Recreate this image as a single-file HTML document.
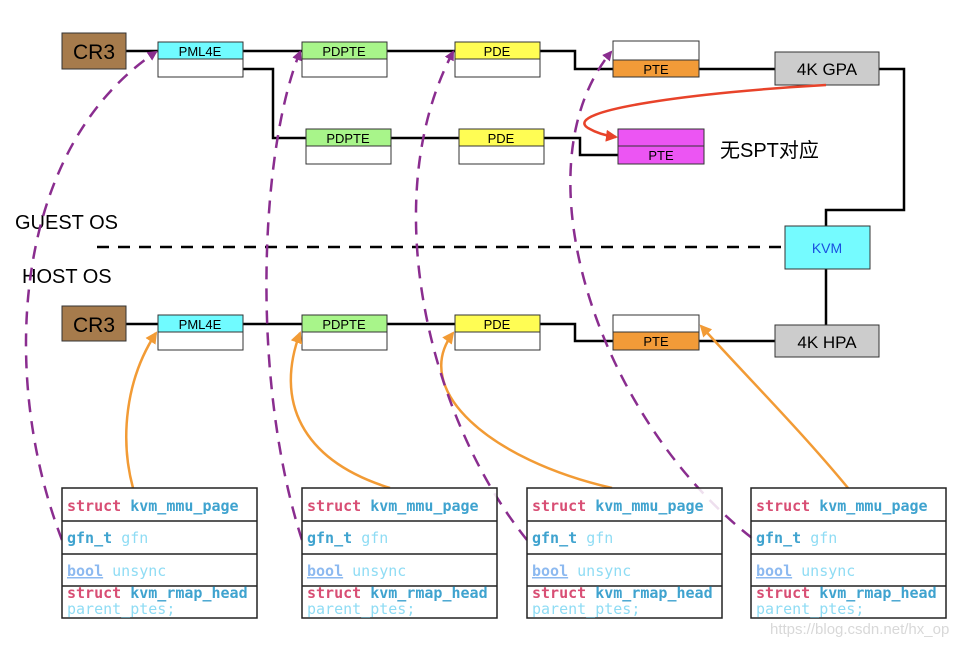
<!DOCTYPE html>
<html><head><meta charset="utf-8"><style>
body{margin:0;background:#fff;}
svg{display:block;}
.m{font-family:"DejaVu Sans Mono",monospace;font-size:15px;font-weight:bold;}
.s{font-family:"Liberation Sans","Noto Sans CJK SC",sans-serif;}
</style></head><body>
<svg width="970" height="646" viewBox="0 0 970 646" xmlns="http://www.w3.org/2000/svg">
<defs>
<marker id="ap" markerWidth="10" markerHeight="10" refX="8" refY="5" orient="auto" markerUnits="userSpaceOnUse"><path d="M0,0 L10,5 L0,10 z" fill="#8a2d8f"/></marker>
<marker id="ao" markerWidth="12" markerHeight="12" refX="10" refY="6" orient="auto" markerUnits="userSpaceOnUse"><path d="M0,0 L12,6 L0,12 z" fill="#f29b35"/></marker>
<marker id="ar" markerWidth="12" markerHeight="12" refX="10" refY="6" orient="auto" markerUnits="userSpaceOnUse"><path d="M0,0 L12,6 L0,12 z" fill="#e8432a"/></marker>
</defs>
<g stroke="#000" stroke-width="2.5" fill="none">
<path d="M126,51 H158 M243,51 H302 M387,51 H455 M540,51 H575 V69 H613 M699,69 H775 M879,69 H904 V210 H826 V226"/>
<path d="M243,69 H273 V138 H306 M391,138 H459 M544,138 H580 V155 H618"/>
<path d="M126,324 H158 M243,324 H302 M387,324 H455 M540,324 H575 V341 H613 M699,341 H775 M826,269 V325"/>
<path d="M97,247 H785" stroke-dasharray="12,9"/>
</g>
<g class="s" text-anchor="middle">
<rect x="62" y="33" width="64" height="36" fill="#a67b4c" stroke="#333"/><text x="94" y="59" font-size="21">CR3</text>
<rect x="62" y="306" width="64" height="35" fill="#a67b4c" stroke="#333"/><text x="94" y="332" font-size="21">CR3</text>
<g stroke="#333" stroke-width="1">
<rect x="158" y="42" width="85" height="17" fill="#70fbff"/><rect x="158" y="59" width="85" height="18" fill="#fff"/>
<rect x="302" y="42" width="85" height="17" fill="#a8f58a"/><rect x="302" y="59" width="85" height="18" fill="#fff"/>
<rect x="455" y="42" width="85" height="17" fill="#fffd54"/><rect x="455" y="59" width="85" height="18" fill="#fff"/>
<rect x="613" y="41" width="86" height="19" fill="#fff"/><rect x="613" y="60" width="86" height="17" fill="#f29b38"/>
<rect x="306" y="129" width="85" height="17" fill="#a8f58a"/><rect x="306" y="146" width="85" height="18" fill="#fff"/>
<rect x="459" y="129" width="85" height="17" fill="#fffd54"/><rect x="459" y="146" width="85" height="18" fill="#fff"/>
<rect x="618" y="129" width="86" height="17" fill="#ec55f3"/><rect x="618" y="146" width="86" height="18" fill="#ec55f3"/>
<rect x="158" y="315" width="85" height="17" fill="#70fbff"/><rect x="158" y="332" width="85" height="18" fill="#fff"/>
<rect x="302" y="315" width="85" height="17" fill="#a8f58a"/><rect x="302" y="332" width="85" height="18" fill="#fff"/>
<rect x="455" y="315" width="85" height="17" fill="#fffd54"/><rect x="455" y="332" width="85" height="18" fill="#fff"/>
<rect x="613" y="315" width="86" height="17" fill="#fff"/><rect x="613" y="332" width="86" height="18" fill="#f29b38"/>
<rect x="775" y="52" width="104" height="33" fill="#cccccc"/>
<rect x="785" y="226" width="85" height="43" fill="#75fbff"/>
<rect x="775" y="325" width="104" height="32" fill="#cccccc"/>
</g>
<g font-size="13">
<text x="200" y="56">PML4E</text><text x="344" y="56">PDPTE</text><text x="497" y="56">PDE</text><text x="656" y="74">PTE</text>
<text x="348" y="143">PDPTE</text><text x="501" y="143">PDE</text><text x="661" y="160">PTE</text>
<text x="200" y="329">PML4E</text><text x="344" y="329">PDPTE</text><text x="497" y="329">PDE</text><text x="656" y="346">PTE</text>
</g>
<text x="827" y="75" font-size="17">4K GPA</text>
<text x="827" y="253" font-size="14" fill="#1a4fe0">KVM</text>
<text x="827" y="348" font-size="17">4K HPA</text>
</g>
<g class="s" font-size="20">
<text x="720" y="157">无SPT对应</text>
<text x="15" y="229">GUEST OS</text>
<text x="22" y="283">HOST OS</text>
</g>
<text x="770" y="634" class="s" font-size="15" fill="#d8d8d8">https://blog.csdn.net/hx_op</text>

<g fill="none" stroke-width="2.5">
<path d="M826,85 C700,92 560,110 588,128 Q600,135 616,137" stroke="#e8432a" marker-end="url(#ar)"/>
<g stroke="#f29b35">
<path d="M133,488 C120,440 125,380 156,333" marker-end="url(#ao)"/>
<path d="M390,488 C300,460 275,400 300,333" marker-end="url(#ao)"/>
<path d="M612,488 C490,460 410,390 453,333" marker-end="url(#ao)"/>
<path d="M848,488 C800,430 750,380 701,326" marker-end="url(#ao)"/>
</g>
<g stroke="#8a2d8f" stroke-dasharray="13,9">
<path d="M62,540 C0,380 10,150 156,52" marker-end="url(#ap)"/>
<path d="M302,540 C250,380 260,150 300,52" marker-end="url(#ap)"/>
<path d="M527,540 C430,420 375,200 453,52" marker-end="url(#ap)"/>
<path d="M752,538 C600,420 515,170 611,52" marker-end="url(#ap)"/>
</g>
</g>

<g class="m">
<g transform="translate(62,488)">
<rect x="0" y="0" width="195" height="130" fill="#fff" fill-opacity="0.85" stroke="#222" stroke-width="1.5"/>
<path d="M0,33 H195 M0,66 H195 M0,98 H195" stroke="#222" stroke-width="1.5"/>
<text x="5" y="23"><tspan fill="#d84e74">struct</tspan> <tspan fill="#3fa3cf">kvm_mmu_page</tspan></text>
<text x="5" y="55"><tspan fill="#3fa3cf">gfn_t</tspan> <tspan fill="#8fdcf4" font-weight="normal">gfn</tspan></text>
<text x="5" y="88"><tspan fill="#8cb9f0" text-decoration="underline">bool</tspan> <tspan fill="#8fdcf4" font-weight="normal">unsync</tspan></text>
<text x="5" y="110"><tspan fill="#d84e74">struct</tspan> <tspan fill="#3fa3cf">kvm_rmap_head</tspan></text>
<text x="5" y="126" fill="#8fdcf4" font-weight="normal">parent_ptes;</text>
</g>
<g transform="translate(302,488)">
<rect x="0" y="0" width="195" height="130" fill="#fff" fill-opacity="0.85" stroke="#222" stroke-width="1.5"/>
<path d="M0,33 H195 M0,66 H195 M0,98 H195" stroke="#222" stroke-width="1.5"/>
<text x="5" y="23"><tspan fill="#d84e74">struct</tspan> <tspan fill="#3fa3cf">kvm_mmu_page</tspan></text>
<text x="5" y="55"><tspan fill="#3fa3cf">gfn_t</tspan> <tspan fill="#8fdcf4" font-weight="normal">gfn</tspan></text>
<text x="5" y="88"><tspan fill="#8cb9f0" text-decoration="underline">bool</tspan> <tspan fill="#8fdcf4" font-weight="normal">unsync</tspan></text>
<text x="5" y="110"><tspan fill="#d84e74">struct</tspan> <tspan fill="#3fa3cf">kvm_rmap_head</tspan></text>
<text x="5" y="126" fill="#8fdcf4" font-weight="normal">parent_ptes;</text>
</g>
<g transform="translate(527,488)">
<rect x="0" y="0" width="195" height="130" fill="#fff" fill-opacity="0.85" stroke="#222" stroke-width="1.5"/>
<path d="M0,33 H195 M0,66 H195 M0,98 H195" stroke="#222" stroke-width="1.5"/>
<text x="5" y="23"><tspan fill="#d84e74">struct</tspan> <tspan fill="#3fa3cf">kvm_mmu_page</tspan></text>
<text x="5" y="55"><tspan fill="#3fa3cf">gfn_t</tspan> <tspan fill="#8fdcf4" font-weight="normal">gfn</tspan></text>
<text x="5" y="88"><tspan fill="#8cb9f0" text-decoration="underline">bool</tspan> <tspan fill="#8fdcf4" font-weight="normal">unsync</tspan></text>
<text x="5" y="110"><tspan fill="#d84e74">struct</tspan> <tspan fill="#3fa3cf">kvm_rmap_head</tspan></text>
<text x="5" y="126" fill="#8fdcf4" font-weight="normal">parent_ptes;</text>
</g>
<g transform="translate(751,488)">
<rect x="0" y="0" width="195" height="130" fill="#fff" fill-opacity="0.85" stroke="#222" stroke-width="1.5"/>
<path d="M0,33 H195 M0,66 H195 M0,98 H195" stroke="#222" stroke-width="1.5"/>
<text x="5" y="23"><tspan fill="#d84e74">struct</tspan> <tspan fill="#3fa3cf">kvm_mmu_page</tspan></text>
<text x="5" y="55"><tspan fill="#3fa3cf">gfn_t</tspan> <tspan fill="#8fdcf4" font-weight="normal">gfn</tspan></text>
<text x="5" y="88"><tspan fill="#8cb9f0" text-decoration="underline">bool</tspan> <tspan fill="#8fdcf4" font-weight="normal">unsync</tspan></text>
<text x="5" y="110"><tspan fill="#d84e74">struct</tspan> <tspan fill="#3fa3cf">kvm_rmap_head</tspan></text>
<text x="5" y="126" fill="#8fdcf4" font-weight="normal">parent_ptes;</text>
</g>
</g>
</svg>
</body></html>
